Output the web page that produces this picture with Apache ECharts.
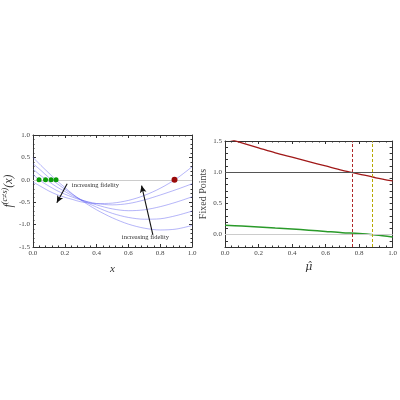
<!DOCTYPE html>
<html>
<head>
<meta charset="utf-8">
<script src="https://cdn.jsdelivr.net/npm/echarts@6/dist/echarts.min.js"></script>
<style>
  html, body { margin: 0; padding: 0; background: #fff; }
  #main { width: 400px; height: 400px; }
</style>
</head>
<body>
<div id="main"></div>
<script>
// left panel: f(x) curves, sampled at these x
const xs = [0, 0.05, 0.1, 0.15, 0.2, 0.25, 0.3, 0.4, 0.5, 0.6, 0.7, 0.8, 0.9, 1.0]
const curveA = [-0.05, -0.15, -0.25, -0.33, -0.39, -0.44, -0.49, -0.53, -0.52, -0.46, -0.35, -0.19, 0.02, 0.29]
const curveB = [0.12, -0.03, -0.14, -0.24, -0.32, -0.39, -0.45, -0.53, -0.56, -0.53, -0.45, -0.34, -0.22, -0.09]
const curveC = [0.24, 0.09, -0.04, -0.16, -0.26, -0.36, -0.44, -0.56, -0.65, -0.69, -0.67, -0.60, -0.50, -0.38]
const curveD = [0.36, 0.21, 0.05, -0.08, -0.21, -0.33, -0.44, -0.61, -0.75, -0.84, -0.88, -0.87, -0.80, -0.70]
const curveE = [0.50, 0.32, 0.15, -0.02, -0.17, -0.32, -0.45, -0.67, -0.85, -0.99, -1.08, -1.12, -1.10, -1.02]
const greenRoots = [0.038, 0.079, 0.114, 0.145]
const redRoot = 0.89

// right panel: fixed points vs mu-hat
const mus = [0, 0.1, 0.2, 0.3, 0.4, 0.5, 0.6, 0.7, 0.8, 0.9, 1.0]
const redFixed = [1.55, 1.47, 1.39, 1.31, 1.24, 1.17, 1.10, 1.03, 0.97, 0.91, 0.86]
const greenFixed = [0.15, 0.135, 0.12, 0.105, 0.09, 0.07, 0.05, 0.03, 0.018, -0.007, -0.04]
const muRed = 0.755
const muYellow = 0.875

// arrows [from, to] and labels
const arrow1 = [[0.215, -0.09], [0.15, -0.51]]
const arrow2 = [[0.754, -1.23], [0.683, -0.13]]
const label1 = [0.238, -0.13]
const label2 = [0.707, -1.28]
const arrowText = 'increasing fidelity'

const serif = 'Liberation Serif'
const fmt1 = v => (Math.abs(v) < 1e-9 ? 0 : v).toFixed(1)
// only label the multiples of 0.5 on the fixed-points axis
const fmtHalf = v => (Math.abs(v * 2 - Math.round(v * 2)) < 1e-6 ? fmt1(v) : '')

const pair = (a, b) => a.map((v, i) => [v, b[i]])

function frameAxis(extra, labelFmt) {
  return Object.assign({
    type: 'value',
    axisLine: { show: true, onZero: false, lineStyle: { color: '#333', width: 1 } },
    axisTick: { show: true, inside: true, length: 3, lineStyle: { color: '#333' } },
    minorTick: { show: true, splitNumber: 5, length: 1.5, lineStyle: { color: '#333' } },
    splitLine: { show: false },
    axisLabel: labelFmt
      ? { show: true, fontFamily: serif, fontSize: 7, color: '#444', margin: 3, formatter: labelFmt }
      : { show: false }
  }, extra)
}

const blue = 'rgba(90, 90, 240, 0.45)'
const curveSeries = [curveA, curveB, curveC, curveD, curveE].map(c => ({
  type: 'line', xAxisIndex: 0, yAxisIndex: 0,
  data: pair(xs, c), smooth: 0.3, showSymbol: false, silent: true,
  lineStyle: { color: blue, width: 1 }
}))

const chart = echarts.init(document.getElementById('main'))
chart.setOption({
  animation: false,
  grid: [
    { left: 28, right: 208, top: 135, bottom: 153 },
    { left: 225, right: 5, top: 141, bottom: 153 }
  ],
  xAxis: [
    frameAxis({ gridIndex: 0, min: 0, max: 1, interval: 0.2, position: 'bottom',
      name: 'x', nameLocation: 'middle', nameGap: 17,
      nameTextStyle: { fontFamily: serif, fontStyle: 'italic', fontSize: 11, color: '#333' } }, fmt1),
    frameAxis({ gridIndex: 0, min: 0, max: 1, interval: 0.2, position: 'top' }, null),
    frameAxis({ gridIndex: 1, min: 0, max: 1, interval: 0.2, position: 'bottom',
      name: 'μ̂', nameLocation: 'middle', nameGap: 15,
      nameTextStyle: { fontFamily: 'DejaVu Serif', fontStyle: 'italic', fontSize: 11, color: '#333' } }, fmt1),
    frameAxis({ gridIndex: 1, min: 0, max: 1, interval: 0.2, position: 'top' }, null)
  ],
  yAxis: [
    frameAxis({ gridIndex: 0, min: -1.5, max: 1, interval: 0.5, position: 'left',
      name: '{f|f}{s|(c≠s)}{f|(x)}', nameLocation: 'middle', nameGap: 15,
      nameTextStyle: { color: '#333', rich: {
        f: { fontFamily: serif, fontStyle: 'italic', fontSize: 12, color: '#333' },
        s: { fontFamily: serif, fontStyle: 'italic', fontSize: 8, color: '#333', padding: [0, 0, 8, 0] }
      } } }, fmt1),
    frameAxis({ gridIndex: 0, min: -1.5, max: 1, interval: 0.5, position: 'right' }, null),
    frameAxis({ gridIndex: 1, min: -0.2, max: 1.5, interval: 0.1, position: 'left',
      minorTick: { show: false },
      name: 'Fixed Points', nameLocation: 'middle', nameGap: 17,
      nameTextStyle: { fontFamily: serif, fontSize: 10, color: '#444' } }, fmtHalf),
    frameAxis({ gridIndex: 1, min: -0.2, max: 1.5, interval: 0.1, position: 'right',
      minorTick: { show: false } }, null)
  ],
  series: [
    // zero line, arrows and labels on the left panel
    {
      type: 'line', xAxisIndex: 0, yAxisIndex: 0, data: [], silent: true,
      markLine: {
        silent: true, symbol: 'none', label: { show: false },
        lineStyle: { color: '#ccc', width: 1, type: 'solid' },
        data: [{ yAxis: 0 }]
      }
    },
    ...curveSeries,
    {
      type: 'line', xAxisIndex: 0, yAxisIndex: 0, data: [], silent: true,
      markLine: {
        silent: true, symbol: ['none', 'arrow'], symbolSize: [5, 7], label: { show: false },
        lineStyle: { color: '#111', width: 1.1, type: 'solid' },
        data: [
          [{ coord: arrow1[0] }, { coord: arrow1[1] }],
          [{ coord: arrow2[0] }, { coord: arrow2[1] }]
        ]
      },
      markPoint: {
        silent: true, symbolSize: 0,
        label: { show: true, fontFamily: serif, fontSize: 6.5, color: '#333', formatter: arrowText },
        data: [
          { coord: label1, label: { position: 'right', offset: [-4, 0] } },
          { coord: label2, label: { position: 'inside' } }
        ]
      }
    },
    {
      type: 'scatter', xAxisIndex: 0, yAxisIndex: 0, silent: true, z: 5,
      data: greenRoots.map(r => [r, 0]), symbolSize: 5,
      itemStyle: { color: '#0a9a0a', opacity: 1 }
    },
    {
      type: 'scatter', xAxisIndex: 0, yAxisIndex: 0, silent: true, z: 5,
      data: [[redRoot, 0]], symbolSize: 6,
      itemStyle: { color: '#9a0a0a', opacity: 1 }
    },
    // right panel
    {
      type: 'line', xAxisIndex: 2, yAxisIndex: 2, data: [], silent: true,
      markLine: {
        silent: true, symbol: 'none', label: { show: false },
        data: [
          { yAxis: 0, lineStyle: { color: '#ccc', width: 1, type: 'solid' } },
          { yAxis: 1, lineStyle: { color: '#555', width: 1, type: 'solid' } },
          { xAxis: muRed, lineStyle: { color: '#b02828', width: 1, type: [3, 2] } },
          { xAxis: muYellow, lineStyle: { color: '#b8a800', width: 1, type: [3, 2] } }
        ]
      }
    },
    {
      type: 'line', xAxisIndex: 2, yAxisIndex: 2, silent: true,
      data: pair(mus, redFixed), smooth: 0.3, showSymbol: false, clip: true,
      lineStyle: { color: '#a01818', width: 1.3 }
    },
    {
      type: 'line', xAxisIndex: 2, yAxisIndex: 2, silent: true,
      data: pair(mus, greenFixed), smooth: 0.3, showSymbol: false, clip: true,
      lineStyle: { color: '#2a9a2a', width: 1.5 }
    }
  ]
})
</script>
</body>
</html>
